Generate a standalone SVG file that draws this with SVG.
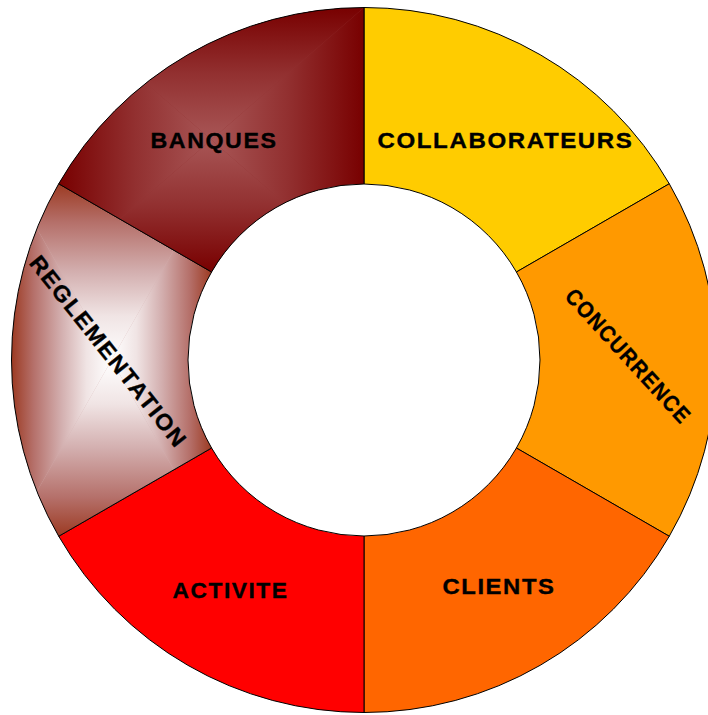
<svg xmlns="http://www.w3.org/2000/svg" width="708" height="715" viewBox="0 0 708 715">
  <style>
    .seg { stroke: #000; stroke-width: 1; stroke-linejoin: round; }
    .lbl { font-family: "Liberation Sans", Arial, sans-serif; font-weight: bold; font-size: 22.5px; letter-spacing: 1.5px; fill: #000; stroke: #000; stroke-width: 0.35; text-anchor: middle; }
  </style>
  <defs>
    <linearGradient id="bqBase">
      <stop offset="0" stop-color="#780000"/>
      <stop offset="0.5" stop-color="#923030"/>
      <stop offset="1" stop-color="#A85656"/>
    </linearGradient>
    <linearGradient id="bqT" href="#bqBase" gradientUnits="userSpaceOnUse" x1="0" y1="7.5" x2="0" y2="139.75"/>
    <linearGradient id="bqB" href="#bqBase" gradientUnits="userSpaceOnUse" x1="0" y1="272" x2="0" y2="139.75"/>
    <linearGradient id="bqL" href="#bqBase" gradientUnits="userSpaceOnUse" x1="58.7" y1="0" x2="211.35" y2="0"/>
    <linearGradient id="bqR" href="#bqBase" gradientUnits="userSpaceOnUse" x1="364" y1="0" x2="211.35" y2="0"/>

    <linearGradient id="rgBase">
      <stop offset="0" stop-color="#9C3A22"/>
      <stop offset="0.22" stop-color="#B5706A"/>
      <stop offset="0.5" stop-color="#D3AFAF"/>
      <stop offset="0.75" stop-color="#F0E4E4"/>
      <stop offset="1" stop-color="#FFFFFF"/>
    </linearGradient>
    <linearGradient id="rgT" href="#rgBase" gradientUnits="userSpaceOnUse" x1="0" y1="183.75" x2="0" y2="360"/>
    <linearGradient id="rgB" href="#rgBase" gradientUnits="userSpaceOnUse" x1="0" y1="536.25" x2="0" y2="360"/>
    <linearGradient id="rgL" href="#rgBase" gradientUnits="userSpaceOnUse" x1="11.5" y1="0" x2="111.55" y2="0"/>
    <linearGradient id="rgR" href="#rgBase" gradientUnits="userSpaceOnUse" x1="211.6" y1="0" x2="111.55" y2="0"/>

    <clipPath id="clipBq">
      <path d="M58.73,183.75 A352.5,352.5 0 0 1 364,7.5 L364,184 A176,176 0 0 0 211.58,272 Z"/>
    </clipPath>
    <clipPath id="clipRg">
      <path d="M58.73,536.25 A352.5,352.5 0 0 1 58.73,183.75 L211.58,272 A176,176 0 0 0 211.58,448 Z"/>
    </clipPath>
  </defs>

  <rect width="708" height="715" fill="#FFFFFF"/>

  <g id="connectors"></g>

  <g id="node-collaborateurs">
    <path class="seg" fill="#FFCC00" d="M364,7.5 A352.5,352.5 0 0 1 669.27,183.75 L516.42,272 A176,176 0 0 0 364,184 Z"/>
    <text class="lbl" x="505.5" y="148" textLength="256" lengthAdjust="spacingAndGlyphs">COLLABORATEURS</text>
  </g>

  <g id="node-concurrence">
    <path class="seg" fill="#FF9900" d="M669.27,183.75 A352.5,352.5 0 0 1 669.27,536.25 L516.42,448 A176,176 0 0 0 516.42,272 Z"/>
    <text class="lbl" transform="translate(628.5,356) rotate(47.5)" x="0" y="8" textLength="174" lengthAdjust="spacingAndGlyphs">CONCURRENCE</text>
  </g>

  <g id="node-clients">
    <path class="seg" fill="#FF6600" d="M669.27,536.25 A352.5,352.5 0 0 1 364,712.5 L364,536 A176,176 0 0 0 516.42,448 Z"/>
    <text class="lbl" x="499" y="594.3" textLength="113" lengthAdjust="spacingAndGlyphs">CLIENTS</text>
  </g>

  <g id="node-activite">
    <path class="seg" fill="#FF0000" d="M364,712.5 A352.5,352.5 0 0 1 58.73,536.25 L211.58,448 A176,176 0 0 0 364,536 Z"/>
    <text class="lbl" x="230.5" y="597.7" textLength="116" lengthAdjust="spacingAndGlyphs">ACTIVITE</text>
  </g>

  <g id="node-reglementation">
    <g clip-path="url(#clipRg)">
      <rect x="11.5" y="183.75" width="200.1" height="352.5" fill="#D3AFAF"/>
      <polygon fill="url(#rgT)" points="11.5,183.75 211.6,183.75 111.55,360"/>
      <polygon fill="url(#rgB)" points="11.5,536.25 211.6,536.25 111.55,360"/>
      <polygon fill="url(#rgL)" points="11.5,183.75 11.5,536.25 111.55,360"/>
      <polygon fill="url(#rgR)" points="211.6,183.75 211.6,536.25 111.55,360"/>
    </g>
    <path class="seg" fill="none" d="M58.73,536.25 A352.5,352.5 0 0 1 58.73,183.75 L211.58,272 A176,176 0 0 0 211.58,448 Z"/>
    <text class="lbl" transform="translate(108.5,351.5) rotate(51.5)" x="0" y="8" textLength="238" lengthAdjust="spacingAndGlyphs">REGLEMENTATION</text>
  </g>

  <g id="node-banques">
    <g clip-path="url(#clipBq)">
      <rect x="58.7" y="7.5" width="305.3" height="264.5" fill="#923030"/>
      <polygon fill="url(#bqT)" points="58.7,7.5 364,7.5 211.35,139.75"/>
      <polygon fill="url(#bqB)" points="58.7,272 364,272 211.35,139.75"/>
      <polygon fill="url(#bqL)" points="58.7,7.5 58.7,272 211.35,139.75"/>
      <polygon fill="url(#bqR)" points="364,7.5 364,272 211.35,139.75"/>
    </g>
    <path class="seg" fill="none" d="M58.73,183.75 A352.5,352.5 0 0 1 364,7.5 L364,184 A176,176 0 0 0 211.58,272 Z"/>
    <text class="lbl" x="214" y="148.3" textLength="127" lengthAdjust="spacingAndGlyphs">BANQUES</text>
  </g>
</svg>
